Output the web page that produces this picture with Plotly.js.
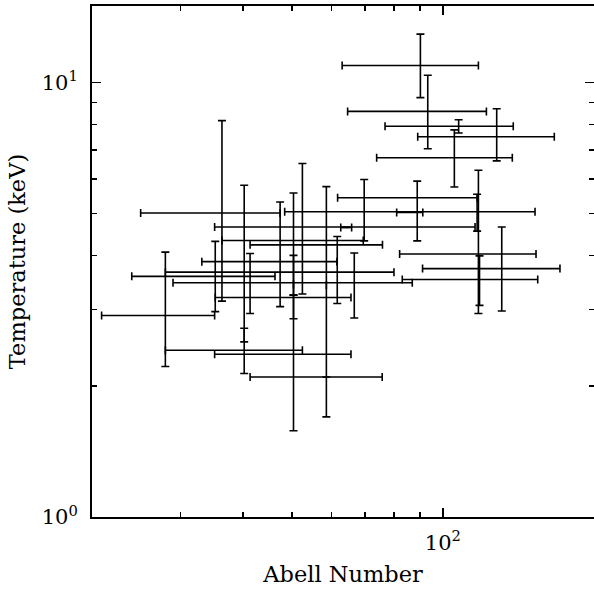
<!DOCTYPE html>
<html><head><meta charset="utf-8">
<script src="https://cdn.plot.ly/plotly-3.0.1.min.js"></script>
<style>html,body{margin:0;padding:0;background:#fff;}#chart{width:594px;height:590px;}</style>
</head><body><div id="chart"></div>
<script>
// Abell number (centre, lower, upper) and temperature in keV (centre, lower, upper)
const abell      = [90.2, 93.3, 128.0, 107.5, 105.4, 88.9, 117.0, 117.7, 131.0, 118.3, 69.7, 52.5, 36.3, 28.0, 40.2, 40.2, 50.4, 50.4, 47.4, 61.6, 35.2, 66.6, 41.3, 50.4, 58.6, 58.6, 64.1];
const abellLow   = [63.0, 64.6,  89.1,  76.7,  73.8, 80.9,  48.4,  82.0,  91.1,  83.0, 61.7, 35.1, 25.0, 20.9, 36.3, 28.0, 41.3, 35.1, 33.1, 28.0, 24.0, 29.0, 35.2, 50.4, 58.6, 41.3, 62.6];
const abellHigh  = [117.7, 122.1, 166.7, 138.1, 137.5, 91.2, 152.6, 153.3, 171.1, 154.5, 117.1, 115.9, 47.4, 35.1, 69.4, 52.5, 75.8, 65.6, 61.5, 79.9, 46.3, 86.9, 65.6, 50.4, 58.6, 75.7, 65.8];
const temperature= [10.94, 8.58, 7.50, 7.93, 6.71, 5.02, 5.04, 4.03, 3.73, 3.52, 5.43, 4.65, 5.01, 2.91, 4.33, 2.42, 4.23, 2.37, 3.87, 3.66, 3.58, 3.46, 3.20, 3.43, 3.42, 2.10, 4.64];
const tempLow    = [9.23, 7.04, 6.60, 7.65, 5.75, 4.32, 4.55, 2.94, 2.98, 3.07, 4.32, 3.26, 3.14, 2.22, 2.53, 2.14, 3.24, 1.58, 3.05, 3.10, 2.97, 2.87, 2.94, 2.86, 1.70, 2.10, 4.64];
const tempHigh   = [12.92, 10.39, 8.70, 8.21, 7.78, 5.93, 5.53, 6.28, 4.65, 3.99, 5.98, 6.51, 8.17, 4.07, 5.80, 2.72, 5.57, 3.24, 5.31, 4.42, 4.31, 4.05, 4.04, 4.00, 5.76, 2.10, 4.64];

const xTickVals = [100];
const xTickText = ['10<sup>2</sup>'];
const xMinorVals = [20, 30, 40, 50, 60, 70, 80, 90, 200];
const yTickVals = [1, 10];
const yTickText = ['10<sup>0</sup>', '10<sup>1</sup>'];
const yMinorVals = [2, 3, 4, 5, 6, 7, 8, 9];

const trace = {
  x: abell, y: temperature, type: 'scatter', mode: 'markers',
  marker: {size: 1, color: 'rgba(0,0,0,0)'},
  error_x: {type: 'data', symmetric: false,
    array: abell.map((v, i) => abellHigh[i] - v),
    arrayminus: abell.map((v, i) => v - abellLow[i]),
    color: '#000', thickness: 1.6, width: 4},
  error_y: {type: 'data', symmetric: false,
    array: temperature.map((v, i) => tempHigh[i] - v),
    arrayminus: temperature.map((v, i) => v - tempLow[i]),
    color: '#000', thickness: 1.6, width: 4},
  hoverinfo: 'x+y'
};

const tickFont = {family: 'DejaVu Serif', size: 21, color: '#000'};
const titleFont = {family: 'DejaVu Serif', size: 22.5, color: '#000'};

const layout = {
  width: 594, height: 590,
  margin: {l: 92, r: 0, t: 6, b: 73},
  paper_bgcolor: '#fff', plot_bgcolor: '#fff',
  showlegend: false,
  xaxis: {
    type: 'log', range: [Math.log10(20), Math.log10(200)],
    tickmode: 'array', tickvals: xTickVals, ticktext: xTickText,
    ticks: 'inside', ticklen: 9, tickwidth: 1.5, tickcolor: '#000',
    minor: {tickmode: 'array', tickvals: xMinorVals, ticks: 'inside', ticklen: 5, tickwidth: 1.5, tickcolor: '#000', showgrid: false},
    showline: true, linewidth: 2, linecolor: '#000', mirror: 'ticks',
    showgrid: false, zeroline: false, tickfont: tickFont, ticklabelstandoff: 6,
    title: {text: 'Abell Number', font: titleFont, standoff: 12},
    automargin: false
  },
  yaxis: {
    type: 'log', range: [0, Math.log10(15)],
    tickmode: 'array', tickvals: yTickVals, ticktext: yTickText,
    ticks: 'inside', ticklen: 9, tickwidth: 1.5, tickcolor: '#000',
    minor: {tickmode: 'array', tickvals: yMinorVals, ticks: 'inside', ticklen: 5, tickwidth: 1.5, tickcolor: '#000', showgrid: false},
    showline: true, linewidth: 2, linecolor: '#000', mirror: 'ticks',
    showgrid: false, zeroline: false, tickfont: tickFont, ticklabelstandoff: 8,
    title: {text: 'Temperature (keV)', font: titleFont, standoff: 10},
    automargin: false
  }
};

Plotly.newPlot('chart', [trace], layout, {staticPlot: true, displayModeBar: false});
</script>
</body></html>
